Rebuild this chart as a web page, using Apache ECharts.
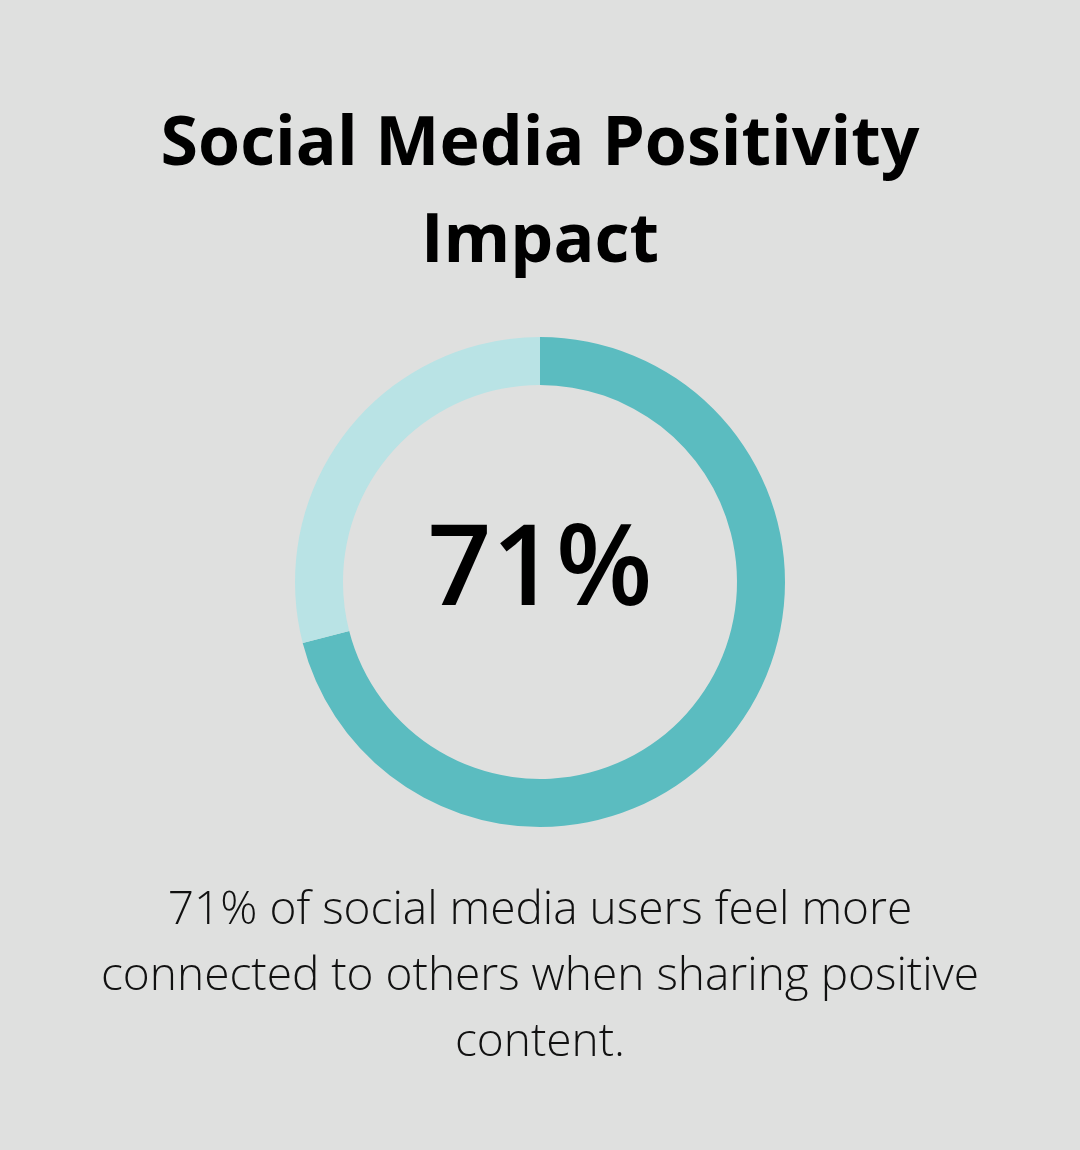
<!DOCTYPE html>
<html><head><meta charset="utf-8">
<script src="https://cdn.jsdelivr.net/npm/echarts@6/dist/echarts.min.js"></script>
<style>html,body{margin:0;padding:0;background:#dfe0df}#c{width:1080px;height:1150px}</style>
</head><body><div id="c"></div>
<script>
const titleLines = ['Social Media Positivity', 'Impact'];
const descLines = ['71% of social media users feel more', 'connected to others when sharing positive', 'content.'];
const labels = ['Feel more connected', 'Other'];
const values = [71, 29];
const centerLabel = '71%';
const chart = echarts.init(document.getElementById('c'));
chart.setOption({
  backgroundColor: '#dfe0df',
  title: [
    { text: titleLines.join('\n'), left: 'center', top: 92,
      textStyle: { fontFamily: 'Open Sans', fontWeight: 'bold', fontSize: 68, lineHeight: 97, color: '#000' } },
    { text: centerLabel, left: 'center', top: 512,
      textStyle: { fontFamily: 'Open Sans', fontWeight: 600, fontSize: 112, color: '#000' } },
    { text: descLines.join('\n'), left: 'center', top: 873,
      textStyle: { fontFamily: 'Open Sans', fontWeight: 300, fontSize: 46, lineHeight: 66, color: '#111' } }
  ],
  series: [{
    type: 'pie', center: [540, 582], radius: [197, 245], startAngle: 90, clockwise: true,
    label: { show: false }, labelLine: { show: false }, silent: true,
    data: labels.map((n, i) => ({ name: n, value: values[i], itemStyle: { color: i === 0 ? '#5bbcc0' : '#b9e3e5' } }))
  }]
});
</script></body></html>
